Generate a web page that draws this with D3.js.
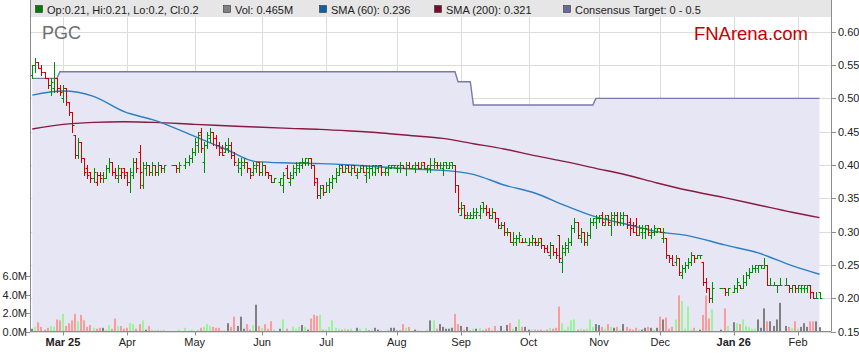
<!DOCTYPE html>
<html>
<head>
<meta charset="utf-8">
<script src="https://cdn.jsdelivr.net/npm/d3@7"></script>
<style>
  body { margin: 0; background: #fff; }
  text { font-family: "Liberation Sans", Arial, sans-serif; }
</style>
</head>
<body>
<div id="chart"></div>
<script>
// ---- data ----
const ticker = "PGC";
const firstDay = "2025-02-17", lastDay = "2026-02-11";
const holidays = ["2025-04-18", "2025-04-21", "2025-04-25", "2025-06-09",
  "2025-12-25", "2025-12-26", "2026-01-01", "2026-01-26"];

// daily [open, high, low, close], one row per trading day
const ohlc = [
  [0.535,0.55,0.53,0.55],[0.55,0.56,0.54,0.555],[0.555,0.555,0.545,0.545],[0.545,0.55,0.535,0.54],[0.54,0.54,0.53,0.53],
  [0.53,0.53,0.515,0.52],[0.52,0.53,0.505,0.525],[0.515,0.555,0.51,0.53],[0.53,0.53,0.51,0.515],[0.515,0.52,0.505,0.51],
  [0.50,0.52,0.495,0.515],[0.515,0.515,0.49,0.495],[0.495,0.495,0.475,0.48],[0.48,0.48,0.45,0.46],[0.445,0.445,0.41,0.415],
  [0.415,0.44,0.41,0.435],[0.435,0.435,0.405,0.41],[0.41,0.41,0.385,0.39],[0.395,0.40,0.38,0.385],[0.39,0.39,0.375,0.38],
  [0.38,0.395,0.375,0.39],[0.375,0.39,0.37,0.385],[0.385,0.39,0.375,0.38],[0.385,0.39,0.375,0.38],[0.38,0.40,0.38,0.395],
  [0.395,0.41,0.39,0.405],[0.405,0.405,0.385,0.39],[0.39,0.395,0.38,0.385],[0.38,0.40,0.375,0.395],[0.385,0.395,0.38,0.39],
  [0.395,0.395,0.38,0.385],[0.39,0.39,0.37,0.375],[0.375,0.395,0.36,0.39],[0.385,0.41,0.38,0.405],[0.405,0.41,0.39,0.395],
  [0.42,0.43,0.365,0.39],[0.37,0.405,0.365,0.40],[0.395,0.405,0.385,0.40],[0.40,0.40,0.385,0.39],[0.39,0.405,0.385,0.40],
  [0.40,0.40,0.385,0.39],[0.39,0.405,0.385,0.40],[0.40,0.40,0.39,0.395],[0.395,0.40,0.39,0.40],
  [0.40,0.40,0.40,0.40],[0.40,0.40,0.39,0.395],[0.395,0.405,0.39,0.40],
  [0.40,0.41,0.395,0.405],[0.405,0.415,0.40,0.41],[0.41,0.425,0.405,0.42],[0.42,0.44,0.415,0.435],[0.43,0.45,0.42,0.445],
  [0.45,0.455,0.42,0.425],[0.405,0.435,0.39,0.43],[0.43,0.45,0.425,0.445],[0.44,0.455,0.435,0.45],[0.45,0.45,0.43,0.44],
  [0.44,0.445,0.425,0.43],[0.43,0.435,0.415,0.42],[0.425,0.43,0.415,0.415],[0.42,0.435,0.42,0.43],[0.425,0.44,0.42,0.43],
  [0.43,0.435,0.41,0.415],[0.415,0.42,0.40,0.405],[0.40,0.41,0.39,0.405],[0.395,0.41,0.385,0.405],[0.40,0.41,0.395,0.405],
  [0.405,0.405,0.39,0.395],[0.395,0.395,0.38,0.385],[0.39,0.405,0.385,0.40],[0.395,0.405,0.39,0.40],[0.405,0.405,0.385,0.39],
  [0.39,0.405,0.385,0.40],[0.40,0.40,0.385,0.39],[0.39,0.39,0.38,0.385],[0.385,0.385,0.375,0.375],[0.375,0.38,0.375,0.38],
  [0.375,0.38,0.37,0.38],[0.37,0.39,0.36,0.385],[0.395,0.40,0.38,0.38],[0.375,0.39,0.37,0.385],[0.38,0.40,0.38,0.395],
  [0.39,0.405,0.385,0.40],[0.395,0.405,0.39,0.405],[0.40,0.41,0.395,0.405],[0.405,0.41,0.40,0.41],[0.405,0.41,0.40,0.41],
  [0.41,0.41,0.395,0.40],[0.40,0.40,0.37,0.375],[0.38,0.38,0.35,0.355],[0.355,0.37,0.35,0.365],[0.37,0.37,0.355,0.36],
  [0.36,0.375,0.36,0.37],[0.37,0.38,0.36,0.375],[0.375,0.385,0.365,0.38],[0.38,0.395,0.375,0.39],[0.385,0.40,0.385,0.395],
  [0.40,0.40,0.39,0.39],[0.39,0.40,0.39,0.395],[0.40,0.40,0.39,0.39],[0.39,0.40,0.385,0.395],[0.40,0.40,0.39,0.39],
  [0.385,0.395,0.38,0.39],[0.39,0.40,0.39,0.395],[0.40,0.40,0.39,0.39],[0.385,0.40,0.375,0.395],[0.39,0.40,0.38,0.395],
  [0.395,0.40,0.385,0.40],[0.39,0.40,0.385,0.40],[0.395,0.40,0.39,0.40],[0.40,0.40,0.385,0.39],[0.39,0.395,0.385,0.395],
  [0.39,0.40,0.385,0.40],[0.395,0.40,0.395,0.40],[0.40,0.40,0.395,0.40],[0.395,0.40,0.39,0.40],[0.395,0.405,0.39,0.40],
  [0.40,0.40,0.395,0.395],[0.395,0.405,0.385,0.40],[0.40,0.405,0.395,0.395],[0.395,0.40,0.395,0.40],[0.395,0.405,0.39,0.40],
  [0.40,0.405,0.395,0.395],[0.395,0.405,0.395,0.40],[0.405,0.405,0.395,0.395],[0.395,0.40,0.39,0.40],[0.395,0.41,0.39,0.40],
  [0.40,0.41,0.395,0.405],[0.40,0.405,0.395,0.40],[0.40,0.405,0.395,0.40],[0.395,0.405,0.385,0.40],[0.405,0.405,0.395,0.40],
  [0.395,0.405,0.395,0.40],[0.405,0.405,0.395,0.40],[0.40,0.40,0.36,0.37],[0.37,0.37,0.33,0.335],[0.325,0.345,0.325,0.335],
  [0.34,0.34,0.32,0.325],[0.32,0.33,0.32,0.325],[0.32,0.33,0.32,0.325],[0.32,0.335,0.32,0.33],[0.325,0.335,0.32,0.33],
  [0.325,0.34,0.32,0.335],[0.345,0.345,0.33,0.335],[0.335,0.34,0.325,0.33],[0.33,0.335,0.32,0.325],[0.32,0.335,0.32,0.33],
  [0.33,0.33,0.315,0.32],[0.32,0.32,0.305,0.31],[0.305,0.315,0.305,0.31],[0.31,0.315,0.295,0.30],[0.30,0.305,0.295,0.30],
  [0.30,0.30,0.285,0.285],[0.285,0.30,0.28,0.29],[0.285,0.295,0.28,0.29],[0.29,0.30,0.285,0.295],[0.285,0.29,0.285,0.285],
  [0.285,0.29,0.285,0.285],[0.28,0.29,0.28,0.285],[0.285,0.295,0.28,0.29],[0.285,0.29,0.28,0.285],[0.28,0.29,0.28,0.285],
  [0.29,0.29,0.275,0.28],[0.28,0.28,0.27,0.275],[0.275,0.28,0.27,0.27],[0.265,0.285,0.26,0.28],[0.28,0.28,0.265,0.27],
  [0.27,0.275,0.26,0.265],[0.295,0.295,0.255,0.26],[0.255,0.28,0.24,0.275],[0.27,0.285,0.265,0.28],[0.275,0.29,0.27,0.285],
  [0.285,0.31,0.28,0.305],[0.305,0.32,0.30,0.315],[0.315,0.315,0.29,0.295],[0.29,0.305,0.285,0.30],[0.30,0.30,0.28,0.285],
  [0.285,0.30,0.28,0.295],[0.295,0.32,0.29,0.315],[0.315,0.32,0.31,0.32],[0.315,0.325,0.305,0.32],[0.32,0.325,0.315,0.32],
  [0.325,0.33,0.31,0.315],[0.31,0.325,0.31,0.32],[0.325,0.325,0.31,0.315],[0.31,0.33,0.295,0.325],[0.32,0.33,0.31,0.325],
  [0.325,0.33,0.31,0.315],[0.315,0.33,0.31,0.325],[0.32,0.33,0.31,0.325],[0.325,0.325,0.305,0.31],[0.315,0.32,0.295,0.305],
  [0.31,0.315,0.30,0.30],[0.31,0.32,0.295,0.295],[0.295,0.31,0.295,0.305],[0.30,0.31,0.29,0.305],[0.30,0.31,0.29,0.305],
  [0.31,0.31,0.295,0.30],[0.295,0.305,0.29,0.30],[0.30,0.31,0.295,0.305],[0.30,0.305,0.30,0.305],[0.305,0.305,0.30,0.30],
  [0.29,0.305,0.285,0.30],[0.29,0.29,0.26,0.265],[0.265,0.265,0.255,0.26],[0.26,0.265,0.25,0.25],[0.255,0.265,0.25,0.26],
  [0.26,0.26,0.235,0.24],[0.235,0.25,0.23,0.245],[0.245,0.255,0.24,0.25],[0.25,0.26,0.245,0.255],[0.255,0.27,0.25,0.265],
  [0.265,0.265,0.255,0.26],[0.26,0.265,0.26,0.265],[0.265,0.265,0.26,0.265],[0.255,0.255,0.22,0.225],[0.225,0.23,0.21,0.215],
  [0.215,0.215,0.195,0.20],[0.20,0.225,0.195,0.215],
  [0.215,0.215,0.215,0.215],[0.215,0.215,0.205,0.21],[0.21,0.215,0.205,0.215],
  [0.21,0.22,0.21,0.215],[0.215,0.23,0.21,0.225],[0.22,0.22,0.215,0.215],[0.215,0.235,0.215,0.225],[0.225,0.24,0.22,0.235],
  [0.235,0.245,0.23,0.24],[0.24,0.25,0.24,0.245],[0.245,0.25,0.24,0.25],[0.245,0.25,0.24,0.25],[0.25,0.25,0.245,0.25],
  [0.245,0.26,0.245,0.25],[0.25,0.25,0.22,0.22],[0.22,0.23,0.22,0.22],[0.22,0.225,0.22,0.22],[0.22,0.22,0.21,0.22],
  [0.22,0.23,0.22,0.22],
  [0.22,0.23,0.22,0.22],[0.22,0.22,0.21,0.215],[0.215,0.22,0.21,0.22],[0.22,0.22,0.21,0.215],
  [0.215,0.22,0.21,0.22],[0.215,0.22,0.21,0.22],[0.215,0.22,0.21,0.22],[0.215,0.22,0.21,0.22],[0.22,0.22,0.20,0.21],
  [0.21,0.21,0.20,0.20],[0.20,0.21,0.20,0.20],[0.21,0.21,0.20,0.20]
];

// daily volume, millions of shares
const volume = [
  0.3,0.5,1.0,0.5,0.2,0.4,0.6,0.5,1.3,1.2, 1.9,0.6,0.9,1.2,1.9,1.1,1.8,1.2,0.5,0.7,
  0.4,0.3,0.4,0.4,0.2,0.7,0.3,1.4,0.6,0.6, 0.3,0.4,0.9,0.8,0.3,0.8,1.2,0.2,0.6,0.2,
  0.1,0.2,0.1,0.2, 0,0,0.2,
  0.4,0.1,0.2,0,0.2,0.4,0.5,0.8,0.6,0.5, 0.4,0.4,0.1,0.1,0.9,0.5,1.6,0.6,1.6,0.3,
  0.8,0.2,0.7,2.9,0.6,0.4,0.8,0.3,1.1,0.2,
  0.3,1.3,0.3,0.1,0.5,0.3,0.5,
  0.7,0.5,0.2,1.4,1.8,1.7,1.8,0.2,0.2,0.5, 1.2,0.4,0.3,0.2,0.3,0.2,0.3,0,0.4,0.3,
  0,0.4,0.1,0.2,0.4,0.2,0.1,0.1,0.2,0.4, 0.4,0.1,0.1,0.8,0.4,0.5,0.1,0.2,0.1,0.1,
  0,0.2,1.2,1.2,0.3,0.8,0.5,0.3,0.3,0.4, 1.9,0.8,0.6,0.2,0.5,0.1,0.3,0.3,0.4,0.1,
  0.3,0.4,0.2,0.6,0.1,0.6,0.1,0.7,0.9,0.3, 0.5,1.3,0.5,0.5,0.2,0.2,0.2,0.1,0.2,0.1,
  0.2,0.4,0.3,0.4,2.7,0.9,0.2,0.5,1.2,1.3, 0.2,0.3,0.2,0.3,1.3,0.5,0.8,0.7,
  0.5,0.3,0.8,0.5,0.4,0.5,0.2,0.8,0.5,0.3, 0.2,0.4,0.2,0.2,0.4,0.5,0.4,0.2,0.4,
  1.6,1.3,1.5,0.3,0.5,1.3,3.9,3.3,0.3,2.7, 0.2,0.4,0.1,0.2,1.8,3.9,1.4,2.4,
  0.2,2.5,0.6,
  1.0,0.9,0.8,1.3,0.6,0.5,0.3,0.3,1.3,0.4, 2.5,1.1,1.1,0.6,1.3,3.1,
  0.6,0.5,0.4,1.1,
  0.3,0.5,0.9,0.5,1.1,1.1,1.1,0.465
];

// moving averages read every 10th trading day (last point = last day)
const smaStep = 10;
const sma60 = [0.505,0.511,0.503,0.480,0.467,0.443,0.424,0.405,0.403,0.402,0.400,0.397,0.394,
  0.392,0.386,0.370,0.358,0.339,0.322,0.311,0.300,0.294,0.280,0.268,0.249,0.236];
const sma200 = [0.454,0.461,0.464,0.465,0.464,0.461,0.459,0.457,0.455,0.4535,0.451,0.448,0.444,
  0.440,0.432,0.424,0.414,0.405,0.395,0.385,0.373,0.362,0.351,0.340,0.329,0.321];

// consensus target, changes by date
const targetFrom = ["2025-02-17", "2025-02-28", "2025-08-29", "2025-09-05", "2025-10-31"];
const targetValue = [0.53, 0.54, 0.525, 0.49, 0.50];

const priceTicks = [0.15, 0.20, 0.25, 0.30, 0.35, 0.40, 0.45, 0.50, 0.55, 0.60];
const volTicks = [0, 2, 4, 6];
const monthLabels = ["Mar 25", "Apr", "May", "Jun", "Jul", "Aug", "Sep", "Oct", "Nov", "Dec", "Jan 26", "Feb"];
const boldLabels = ["Mar 25", "Jan 26"];

// ---- trading calendar ----
const parse = d3.utcParse("%Y-%m-%d");
const fmt = d3.utcFormat("%Y-%m-%d");
const days = [];
let wd = 0;
for (const d of d3.utcDay.range(parse(firstDay), d3.utcDay.offset(parse(lastDay), 1))) {
  const dow = d.getUTCDay();
  if (dow === 0 || dow === 6) continue;
  if (!holidays.includes(fmt(d))) days.push({ date: d, wd });
  wd++;
}
const bars = days.map((d, i) => {
  const [o, h, l, c] = ohlc[i];
  const prev = i > 0 ? ohlc[i - 1][3] : c;
  const t = targetValue[d3.bisectRight(targetFrom.map(parse), d.date) - 1];
  return { ...d, o, h, l, c, prev, vol: volume[i], target: t };
});

// ---- layout ----
const width = 859, height = 363;
const plot = { left: 30, right: 831, top: 17, bottom: 331.5 };

const x = d3.scaleLinear().domain([0, wd - 1]).range([32.3, 819.5]);
const y = d3.scaleLinear().domain([0.15, 0.60]).range([331.5, 31.8]);
const yVol = d3.scaleLinear().domain([0, 6]).range([331.5, 276]);

const svg = d3.select('#chart').append('svg')
  .attr('width', width).attr('height', height);

// legend band
svg.append('rect').attr('x', plot.left).attr('y', 0)
  .attr('width', plot.right - plot.left).attr('height', plot.top)
  .attr('fill', '#e6e6e6');

// month ticks at first trading day of each month
const monthStarts = [];
bars.forEach((b, i) => {
  if (i > 0 && b.date.getUTCMonth() !== bars[i - 1].date.getUTCMonth()) monthStarts.push(b);
});
monthStarts.forEach((b, i) => b.label = monthLabels[i]);

const snap = v => Math.round(v) + 0.5;

// grid
const grid = svg.append('g').attr('stroke', '#dcdcdc').attr('stroke-width', 1);
grid.selectAll('line.h').data(priceTicks).join('line')
  .attr('x1', plot.left).attr('x2', plot.right)
  .attr('y1', d => snap(y(d))).attr('y2', d => snap(y(d)));
grid.selectAll('line.v').data(monthStarts).join('line')
  .attr('x1', d => snap(x(d.wd))).attr('x2', d => snap(x(d.wd)))
  .attr('y1', plot.top).attr('y2', plot.bottom);

// consensus target area + line
svg.append('path').datum(bars)
  .attr('fill', '#e6e6f5')
  .attr('d', d3.area().x(d => x(d.wd)).y0(plot.bottom).y1(d => y(d.target)));
svg.append('path').datum(bars)
  .attr('fill', 'none').attr('stroke', '#7a7aa8').attr('stroke-width', 1.4)
  .attr('d', d3.line().x(d => x(d.wd)).y(d => y(d.target)));

// volume
svg.append('g').selectAll('rect').data(bars.filter(d => d.vol > 0)).join('rect')
  .attr('x', d => Math.round(x(d.wd)) - 1)
  .attr('width', 2)
  .attr('y', d => yVol(d.vol))
  .attr('height', d => plot.bottom - yVol(d.vol))
  .attr('fill', d => d.c > d.prev ? '#98f598' : d.c < d.prev ? '#ff9a9a' : '#808080');

// moving averages
const smaPoints = vals => vals.map((v, k) => {
  const i = Math.min(k * smaStep, bars.length - 1);
  return [x(bars[i].wd), y(v)];
});
const smaLine = d3.line().curve(d3.curveMonotoneX);
svg.append('path').attr('fill', 'none').attr('stroke', '#8a1a40').attr('stroke-width', 1.4)
  .attr('d', smaLine(smaPoints(sma200)));
svg.append('path').attr('fill', 'none').attr('stroke', '#2c7fc0').attr('stroke-width', 1.4)
  .attr('d', smaLine(smaPoints(sma60)));

// OHLC bars
svg.append('g').attr('fill', 'none').attr('stroke-width', 1)
  .selectAll('path').data(bars).join('path')
  .attr('stroke', d => d.c >= d.prev ? '#008a00' : '#d00000')
  .attr('d', d => {
    const cx = snap(x(d.wd));
    const yo = snap(y(d.o)), yc = snap(y(d.c));
    return `M${cx},${snap(y(d.h)) - 0.5}V${snap(y(d.l)) + 0.5}` +
      `M${cx - 2},${yo}H${cx}M${cx},${yc}H${cx + 2}`;
  });

// axes
const axis = svg.append('g').attr('stroke', '#8c8c8c').attr('stroke-width', 1);
axis.append('line').attr('x1', 30.5).attr('x2', 30.5).attr('y1', 0).attr('y2', plot.bottom);
axis.append('line').attr('x1', plot.right + 0.5).attr('x2', plot.right + 0.5).attr('y1', 0).attr('y2', plot.bottom);
axis.append('line').attr('x1', plot.left).attr('x2', plot.right).attr('y1', 331.5).attr('y2', 331.5);

// right price axis
axis.selectAll('line.p').data(priceTicks).join('line')
  .attr('x1', plot.right).attr('x2', plot.right + 5)
  .attr('y1', d => snap(y(d))).attr('y2', d => snap(y(d)));
svg.append('g').selectAll('text').data(priceTicks).join('text')
  .attr('x', plot.right + 7).attr('y', d => y(d) + 4)
  .attr('font-size', 11).attr('fill', '#222')
  .text(d => d3.format('.2f')(d));

// left volume axis
axis.selectAll('line.v').data(volTicks).join('line')
  .attr('x1', plot.left - 4).attr('x2', plot.left)
  .attr('y1', d => snap(yVol(d))).attr('y2', d => snap(yVol(d)));
svg.append('g').selectAll('text').data(volTicks).join('text')
  .attr('x', plot.left - 3).attr('y', d => yVol(d) + 4)
  .attr('text-anchor', 'end').attr('font-size', 11).attr('fill', '#222')
  .text(d => d3.format('.1f')(d) + 'M');

// bottom month axis
axis.selectAll('line.m').data(monthStarts).join('line')
  .attr('x1', d => snap(x(d.wd))).attr('x2', d => snap(x(d.wd)))
  .attr('y1', plot.bottom).attr('y2', plot.bottom + 4);
svg.append('g').selectAll('text').data(monthStarts).join('text')
  .attr('x', d => x(d.wd)).attr('y', 346)
  .attr('text-anchor', 'middle').attr('font-size', 11).attr('fill', '#222')
  .attr('font-weight', d => boldLabels.includes(d.label) ? 'bold' : 'normal')
  .text(d => d.label);

// titles
svg.append('text').attr('x', 42).attr('y', 38.5)
  .attr('font-size', 18).attr('fill', '#6e6e6e').text(ticker);
svg.append('text').attr('x', 808).attr('y', 39.5).attr('text-anchor', 'end')
  .attr('font-size', 18.5).attr('fill', '#c40000').text('FNArena.com');

// legend
const last = bars[bars.length - 1];
const legendItems = [
  { x: 35, color: '#007a00', text: `Op:${last.o}, Hi:${last.h}, Lo:${last.l}, Cl:${last.c}` },
  { x: 223, color: '#7f7f7f', text: `Vol: ${last.vol}M` },
  { x: 319, color: '#0c5fa8', text: `SMA (60): ${sma60[sma60.length - 1]}` },
  { x: 434, color: '#7a0a2c', text: `SMA (200): ${sma200[sma200.length - 1]}` },
  { x: 563, color: '#6a6a9a', text: 'Consensus Target: 0 - 0.5' }
];
const leg = svg.append('g').selectAll('g').data(legendItems).join('g');
leg.append('rect').attr('x', d => d.x + 0.5).attr('y', 5.5).attr('width', 7).attr('height', 7)
  .attr('fill', d => d.color).attr('stroke', '#333').attr('stroke-width', 0.6);
leg.append('text').attr('x', d => d.x + 12).attr('y', 13.5)
  .attr('font-size', 11).attr('fill', '#222').text(d => d.text);
</script>
</body>
</html>
